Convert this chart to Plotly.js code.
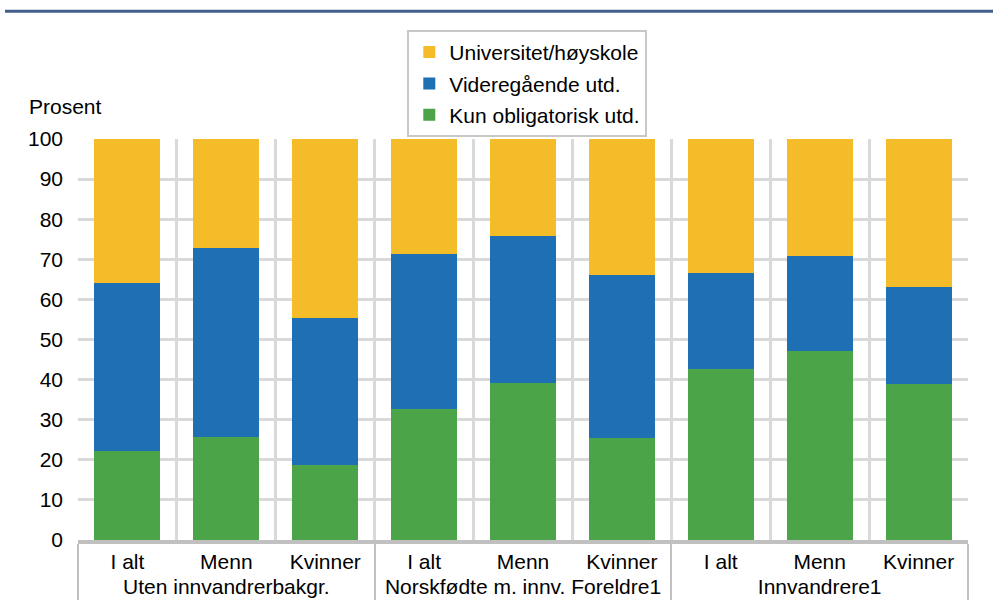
<!DOCTYPE html>
<html>
<head>
<meta charset="utf-8">
<script src="https://cdn.plot.ly/plotly-3.0.1.min.js"></script>
<style>
  html, body { margin: 0; padding: 0; background: #ffffff; }
  #chart { width: 993px; height: 602px; }
</style>
</head>
<body>
<div id="chart"></div>
<script>
// ---- data ----
const groups = [
  "Uten innvandrerbakgr.", "Uten innvandrerbakgr.", "Uten innvandrerbakgr.",
  "Norskfødte m. innv. Foreldre1", "Norskfødte m. innv. Foreldre1", "Norskfødte m. innv. Foreldre1",
  "Innvandrere1", "Innvandrere1", "Innvandrere1"
];
const subgroups = ["I alt", "Menn", "Kvinner", "I alt", "Menn", "Kvinner", "I alt", "Menn", "Kvinner"];

const seriesNames = ["Kun obligatorisk utd.", "Videregående utd.", "Universitet/høyskole"];
const kunObligatorisk = [22.2, 25.7, 18.6, 32.6, 39.2, 25.4, 42.7, 47.2, 38.9];
const videregaende    = [42.0, 47.0, 36.7, 38.6, 36.7, 40.7, 24.0, 23.7, 24.1];
const universitet     = [35.8, 27.3, 44.7, 28.8, 24.1, 33.9, 33.3, 29.1, 37.0];

const yTicks = [0, 10, 20, 30, 40, 50, 60, 70, 80, 90, 100];

// ---- styling ----
const colors = ["#4ba548", "#1f6fb5", "#f5bc2a"];
const seriesValues = [kunObligatorisk, videregaende, universitet];
const legendRanks = [3, 2, 1];
const FONT = "Liberation Sans, Arial, sans-serif";
const FS = 21;

const traces = seriesNames.map((name, i) => ({
  type: "bar",
  name: name,
  x: [groups, subgroups],
  y: seriesValues[i],
  marker: { color: colors[i], line: { width: 0 } },
  legendgroup: "g" + i,
  legendrank: legendRanks[i],
  hoverinfo: "skip"
}));

const layout = {
  width: 993,
  height: 602,
  margin: { l: 78, r: 25, t: 139, b: 62, pad: 0 },
  paper_bgcolor: "#ffffff",
  plot_bgcolor: "#ffffff",
  barmode: "stack",
  bargap: 0.333,
  font: { family: FONT, size: FS, color: "#000000" },
  showlegend: true,
  legend: {
    x: 0.37, xanchor: "left",
    y: 1.272, yanchor: "top",
    traceorder: "grouped",
    tracegroupgap: 1,
    bordercolor: "#c8c8c8",
    borderwidth: 2,
    bgcolor: "#ffffff",
    font: { family: FONT, size: FS, color: "#000000" },
    itemclick: false, itemdoubleclick: false
  },
  xaxis: {
    type: "multicategory",
    showgrid: true,
    gridcolor: "#d9d9d9",
    gridwidth: 3,
    showline: true,
    linecolor: "#c0c0c0",
    linewidth: 4,
    ticks: "",
    showdividers: true,
    dividercolor: "#c0c0c0",
    dividerwidth: 2,
    tickfont: { family: FONT, size: FS, color: "#000000" },
    fixedrange: true
  },
  yaxis: {
    range: [0, 100],
    tickmode: "array",
    tickvals: yTicks,
    ticktext: yTicks.map(String),
    showgrid: true,
    gridcolor: "#d9d9d9",
    gridwidth: 3,
    zeroline: false,
    showline: false,
    ticks: "",
    ticklabelstandoff: 14,
    tickfont: { family: FONT, size: FS, color: "#000000" },
    fixedrange: true
  },
  annotations: [
    {
      text: "Prosent",
      xref: "paper", yref: "paper",
      x: -0.057, xanchor: "left",
      y: 1.08, yanchor: "middle",
      showarrow: false,
      font: { family: FONT, size: FS, color: "#000000" }
    }
  ],
  shapes: [
    {
      type: "line",
      xref: "paper", yref: "paper",
      x0: -0.082, x1: 1.03,
      y0: 1.3184, y1: 1.3184,
      line: { color: "#425f8b", width: 3 }
    }
  ]
};

Plotly.newPlot("chart", traces, layout, { displayModeBar: false, staticPlot: true });
</script>
</body>
</html>
